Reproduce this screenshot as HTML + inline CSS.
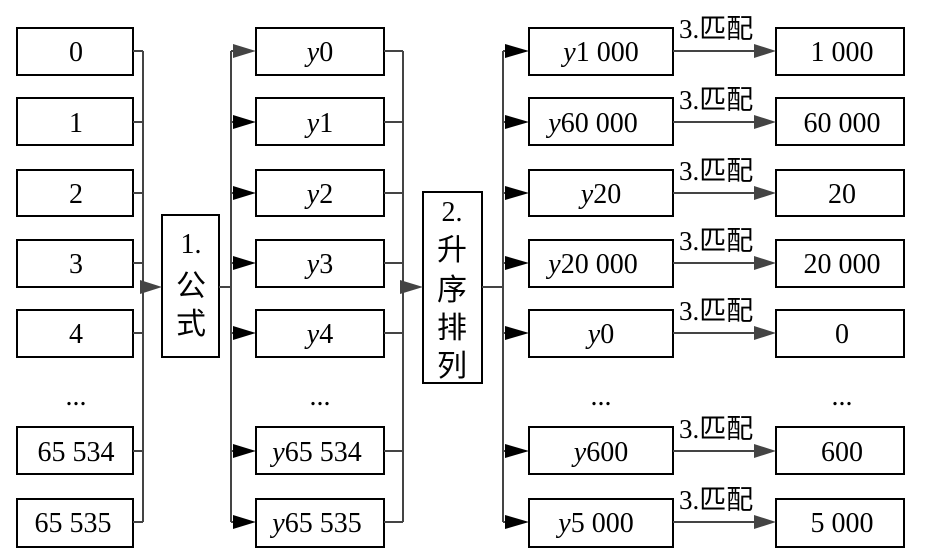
<!DOCTYPE html>
<html><head><meta charset="utf-8"><style>
html,body{margin:0;padding:0;background:#fff;}
svg{display:block;}
text{font-family:"Liberation Serif","Noto Serif CJK SC",serif;font-size:28px;fill:#000;}
.c{font-family:"Liberation Serif","Noto Sans CJK SC",sans-serif;font-size:30px;}
.l{font-family:"Liberation Serif","Noto Sans CJK SC",sans-serif;font-size:27px;}
</style></head><body>
<svg width="945" height="553" viewBox="0 0 945 553" xmlns="http://www.w3.org/2000/svg">
<g fill="none" stroke="#000" stroke-width="2">
<rect x="17" y="28" width="116" height="47"/>
<rect x="17" y="98" width="116" height="47"/>
<rect x="17" y="170" width="116" height="46"/>
<rect x="17" y="240" width="116" height="47"/>
<rect x="17" y="310" width="116" height="47"/>
<rect x="17" y="427" width="116" height="47"/>
<rect x="17" y="499" width="116" height="48"/>
<rect x="256" y="28" width="128" height="47"/>
<rect x="256" y="98" width="128" height="47"/>
<rect x="256" y="170" width="128" height="46"/>
<rect x="256" y="240" width="128" height="47"/>
<rect x="256" y="310" width="128" height="47"/>
<rect x="256" y="427" width="128" height="47"/>
<rect x="256" y="499" width="128" height="48"/>
<rect x="529" y="28" width="144" height="47"/>
<rect x="529" y="98" width="144" height="47"/>
<rect x="529" y="170" width="144" height="46"/>
<rect x="529" y="240" width="144" height="47"/>
<rect x="529" y="310" width="144" height="47"/>
<rect x="529" y="427" width="144" height="47"/>
<rect x="529" y="499" width="144" height="48"/>
<rect x="776" y="28" width="128" height="47"/>
<rect x="776" y="98" width="128" height="47"/>
<rect x="776" y="170" width="128" height="46"/>
<rect x="776" y="240" width="128" height="47"/>
<rect x="776" y="310" width="128" height="47"/>
<rect x="776" y="427" width="128" height="47"/>
<rect x="776" y="499" width="128" height="48"/>
<rect x="162" y="215" width="57" height="142"/>
<rect x="423" y="192" width="59" height="191"/>
</g>
<g fill="none" stroke="#444" stroke-width="2">
<path d="M133 51H143M133 122H143M133 193H143M133 263H143M133 333H143M133 451H143M133 522H143M143 51V522M143 287H150"/>
<path d="M219 287H231M231 51V522M231 51H240M231 122H240M231 193H240M231 263H240M231 333H240M231 451H240M231 522H240"/>
<path d="M384 51H403M384 122H403M384 193H403M384 263H403M384 333H403M384 451H403M384 522H403M403 51V522M403 287H410"/>
<path d="M482 287H503M503 51V522M503 51H512M503 122H512M503 193H512M503 263H512M503 333H512M503 451H512M503 522H512"/>
<path d="M673 51H760M673 122H760M673 193H760M673 263H760M673 333H760M673 451H760M673 522H760"/>
</g>
<g fill="#444">
<polygon points="140,280 162,287 140,294"/>
<polygon points="400,280 423,287 400,294"/>
<polygon points="233,44 256,51 233,58"/>
<g id="a"><polygon points="754,44 776,51 754,58"/></g>
<use href="#a" y="71"/><use href="#a" y="142"/><use href="#a" y="212"/><use href="#a" y="282"/><use href="#a" y="400"/><use href="#a" y="471"/>
</g>
<g fill="#000">
<polygon points="233,115 256,122 233,129"/>
<polygon points="233,186 256,193 233,200"/>
<polygon points="233,256 256,263 233,270"/>
<polygon points="233,326 256,333 233,340"/>
<polygon points="233,444 256,451 233,458"/>
<polygon points="233,515 256,522 233,529"/>
<polygon points="505,44 529,51 505,58"/>
<polygon points="505,115 529,122 505,129"/>
<polygon points="505,186 529,193 505,200"/>
<polygon points="505,256 529,263 505,270"/>
<polygon points="505,326 529,333 505,340"/>
<polygon points="505,444 529,451 505,458"/>
<polygon points="505,515 529,522 505,529"/>
</g>
<g text-anchor="middle">
<text x="76" y="61">0</text><text x="76" y="132">1</text><text x="76" y="203">2</text><text x="76" y="273">3</text><text x="76" y="343">4</text>
<text x="76" y="405">...</text><text x="76" y="461">65 534</text><text x="73" y="532">65 535</text>
<text x="320" y="61"><tspan font-style="italic">y</tspan>0</text>
<text x="320" y="132"><tspan font-style="italic">y</tspan>1</text>
<text x="320" y="203"><tspan font-style="italic">y</tspan>2</text>
<text x="320" y="273"><tspan font-style="italic">y</tspan>3</text>
<text x="320" y="343"><tspan font-style="italic">y</tspan>4</text>
<text x="320" y="405">...</text>
<text x="317" y="461"><tspan font-style="italic">y</tspan>65 534</text>
<text x="317" y="532"><tspan font-style="italic">y</tspan>65 535</text>
<text x="601" y="61"><tspan font-style="italic">y</tspan>1 000</text>
<text x="593" y="132"><tspan font-style="italic">y</tspan>60 000</text>
<text x="601" y="203"><tspan font-style="italic">y</tspan>20</text>
<text x="593" y="273"><tspan font-style="italic">y</tspan>20 000</text>
<text x="601" y="343"><tspan font-style="italic">y</tspan>0</text>
<text x="601" y="405">...</text>
<text x="601" y="461"><tspan font-style="italic">y</tspan>600</text>
<text x="596" y="532"><tspan font-style="italic">y</tspan>5 000</text>
<text x="842" y="61">1 000</text><text x="842" y="132">60 000</text><text x="842" y="203">20</text>
<text x="842" y="273">20 000</text><text x="842" y="343">0</text><text x="842" y="405">...</text>
<text x="842" y="461">600</text><text x="842" y="532">5 000</text>
<text x="191" y="253">1.</text>
<text class="c" x="191" y="296">公</text>
<text class="c" x="191" y="334">式</text>
<text x="452" y="221">2.</text>
<text class="c" x="452" y="260">升</text>
<text class="c" x="452" y="300">序</text>
<text class="c" x="452" y="338">排</text>
<text class="c" x="452" y="376">列</text>
</g>
<g>
<text class="l" x="679" y="38">3.匹配</text>
<text class="l" x="679" y="109">3.匹配</text>
<text class="l" x="679" y="180">3.匹配</text>
<text class="l" x="679" y="250">3.匹配</text>
<text class="l" x="679" y="320">3.匹配</text>
<text class="l" x="679" y="438">3.匹配</text>
<text class="l" x="679" y="509">3.匹配</text>
</g>
</svg>
</body></html>
